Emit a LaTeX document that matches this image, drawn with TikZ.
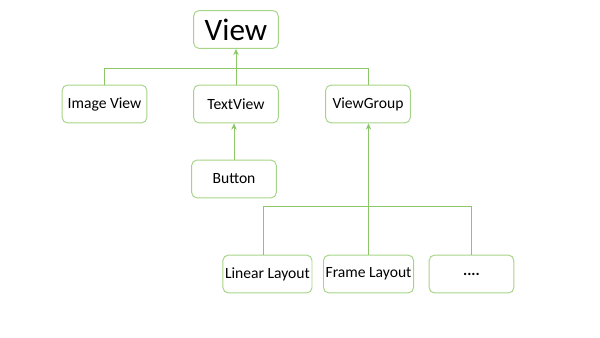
\documentclass[tikz,border=0pt]{standalone}
\usepackage{fontspec}
\setmainfont{Carlito}
\usetikzlibrary{arrows.meta}
\definecolor{linegreen}{RGB}{140,200,105}
\definecolor{boxgreen}{RGB}{165,212,135}
\tikzset{
  box/.style={draw=boxgreen,rounded corners=2.5pt,line width=0.45pt,
    minimum width=1.41cm,minimum height=0.63cm,inner sep=1pt,font=\fontsize{7.4}{9}\selectfont},
  link/.style={draw=linegreen,line width=0.4pt}
}
\begin{document}
\begin{tikzpicture}[>={Stealth[length=3pt,width=2.6pt]}]
  \useasboundingbox (0,0) rectangle (10,-5.617);

  % 节点
  \node[box,font=\fontsize{14.8}{17}\selectfont] (view) at (3.933,-0.492) {View};
  \node[box] (imageview) at (1.742,-1.733) {Image View};
  \node[box] (textview) at (3.933,-1.733) {TextView};
  \node[box] (viewgroup) at (6.133,-1.733) {ViewGroup};
  \node[box] (button) at (3.900,-2.983) {Button};
  \node[box] (linear) at (4.458,-4.567) {Linear Layout};
  \node[box] (frame) at (6.142,-4.567) {Frame Layout};
  \node[box] (dots) at (7.858,-4.567) {\textbf{....}};

  % 横线
  \coordinate (busA) at (0,-1.133);
  \coordinate (busB) at (0,-3.433);

  % 连线
  \draw[link,->] (textview.north) -- (view.south);
  \draw[link] (imageview.north) |- (busA -| viewgroup.north) -- (viewgroup.north);
  \draw[link,->] (button.north) -- (button.north |- textview.south);
  \draw[link,->] (frame.north) -- (frame.north |- viewgroup.south);
  \draw[link] ([xshift=-2pt]linear.north) |- (busB -| dots.north) -- (dots.north);
\end{tikzpicture}
\end{document}
